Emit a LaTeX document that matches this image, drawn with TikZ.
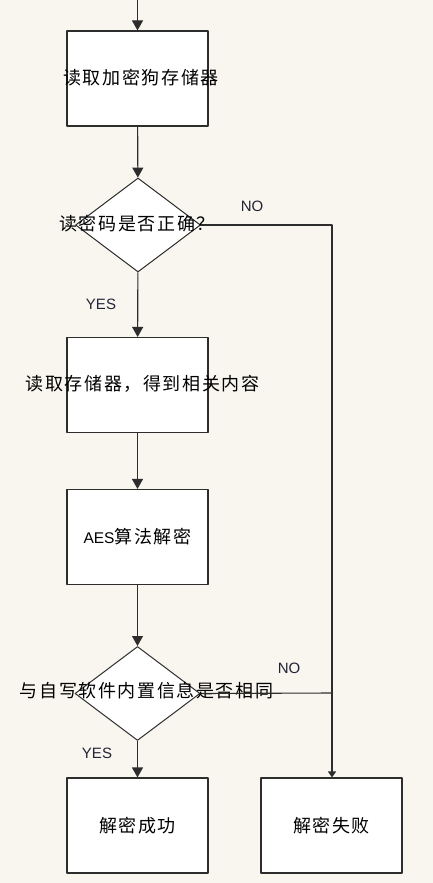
\documentclass[tikz,border=0pt]{standalone}
\usepackage{fontspec}
\setmainfont{Liberation Sans}
\newfontfamily\cjk{Noto Sans CJK SC}[LetterSpace=9]
\usetikzlibrary{shapes.geometric,arrows.meta}
\definecolor{paper}{RGB}{248,246,239}
\definecolor{ln}{RGB}{45,45,45}
\definecolor{lbl}{RGB}{35,35,55}
\begin{document}
\begin{tikzpicture}[x=1pt, y=-1pt, >={Triangle[length=10pt,width=11pt]}, line join=round,
	box/.style={draw=ln, fill=white, line width=1.1pt, minimum width=141pt, minimum height=95pt, inner sep=0pt},
	dia/.style={draw=ln, fill=white, diamond, line width=1pt, minimum width=125pt, minimum height=94pt, inner sep=0pt},
	txt/.style={font=\cjk\fontsize{18}{21}\selectfont, inner sep=0pt},
	yn/.style={font=\fontsize{15}{18}\selectfont, text=lbl, inner sep=0pt},
	flow/.style={draw=ln, line width=1.1pt}]
	\fill[paper] (0,0) rectangle (433,883);
	\useasboundingbox (0,0) rectangle (433,883);
	% shapes
	\node[box] (b1) at (137.5,78.5) {};
	\node[dia] (d1) at (138,225) {};
	\node[box] (b2) at (137.5,385) {};
	\node[box, font=\fontsize{15.5}{18}\selectfont] (b3) at (137.5,537) {AES{\cjk\fontsize{18}{21}\selectfont 算法解密}};
	\node[dia] (d2) at (137.5,693.5) {};
	\node[box, txt] (b4) at (137.5,825.5) {解密成功};
	\node[box, txt] (b5) at (331.5,825.5) {解密失败};
	% texts running over the shapes
	\node[txt] (t1) at (141,78) {读取加密狗存储器};
	\node[txt] (t2) at (137,224) {读密码是否正确？};
	\node[txt] (t3) at (142.5,384) {读取存储器，得到相关内容};
	\node[txt] (t4) at (146.5,691) {与自写软件内置信息是否相同};
	% connectors
	\coordinate (top) at (137.5,-1);
	\coordinate (jn) at (332,693);
	\draw[flow,->] (top) -- (b1);
	\draw[flow,->] (b1) -- (d1);
	\draw[flow,->] (d1) -- (b2);
	\draw[flow,->] (b2) -- (b3);
	\draw[flow,->] (b3) -- (d2);
	\draw[flow,->] (d2) -- (b4);
	\draw[flow] (d1.east) -| (jn);
	\draw[flow] (d2.east) -- (jn);
	\draw[flow,-{Triangle[length=6pt,width=8pt]}] (jn) -- (jn |- b5.north);
	% labels
	\node[yn] (no1) at (252,206) {NO};
	\node[yn] (yes1) at (101,304) {YES};
	\node[yn] (no2) at (289,668) {NO};
	\node[yn] (yes2) at (97,753) {YES};
\end{tikzpicture}
\end{document}
